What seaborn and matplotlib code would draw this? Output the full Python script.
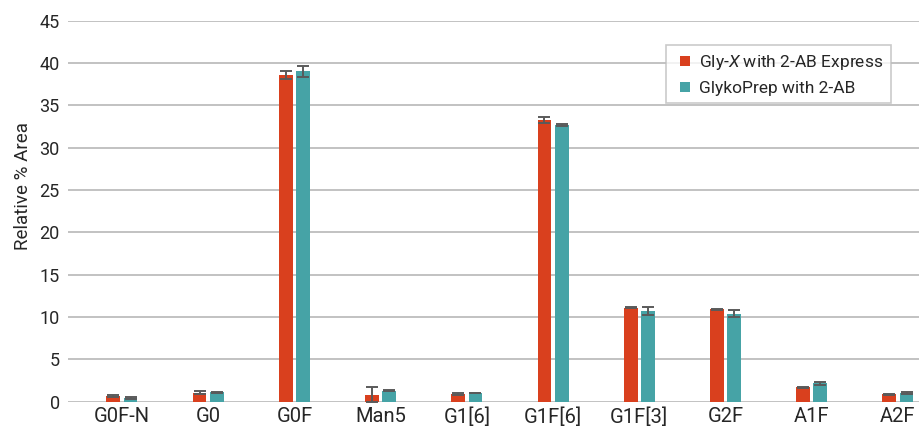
import matplotlib
matplotlib.use("Agg")
import matplotlib.pyplot as plt
from matplotlib.lines import Line2D
import seaborn as sns
import pandas as pd

# Relative peak areas of released N-glycans for two sample-prep workflows
glycans = ["G0F-N", "G0", "G0F", "Man5", "G1[6]", "G1F[6]", "G1F[3]", "G2F", "A1F", "A2F"]
methods = ["Gly-$\\it{X}$ with 2-AB Express", "GlykoPrep with 2-AB"]
glyx_mean = [0.67, 1.08, 38.6, 0.83, 0.9, 33.25, 11.1, 10.9, 1.7, 0.86]
glyx_sd = [0.08, 0.15, 0.45, 0.85, 0.1, 0.35, 0.05, 0.1, 0.05, 0.05]
glyko_mean = [0.45, 1.1, 39.0, 1.32, 1.03, 32.7, 10.7, 10.4, 2.15, 1.06]
glyko_sd = [0.1, 0.08, 0.6, 0.1, 0.05, 0.08, 0.5, 0.4, 0.2, 0.12]
yticks = [0, 5, 10, 15, 20, 25, 30, 35, 40, 45]

red = "#D9401E"
teal = "#46A3A6"
ink = "#262626"

sns.set_theme(style="white")
plt.rcParams["font.family"] = ["Roboto", "DejaVu Sans"]
plt.rcParams["mathtext.fontset"] = "custom"
plt.rcParams["mathtext.it"] = "Roboto:italic"
plt.rcParams["mathtext.rm"] = "Roboto"

df = pd.DataFrame({
    "glycan": glycans * 2,
    "method": [methods[0]] * len(glycans) + [methods[1]] * len(glycans),
    "area": glyx_mean + glyko_mean,
})

fig = plt.figure(figsize=(9.19, 4.36), dpi=100)
ax = fig.add_axes([68 / 919, 1 - 401.7 / 436, 1 - 68 / 919, (401.7 - 20.7) / 436])

sns.barplot(data=df, x="glycan", y="area", hue="method", order=glycans,
            hue_order=methods, palette=[red, teal], width=0.4, gap=0.2,
            errorbar=None, saturation=1, linewidth=0, ax=ax, legend=False)

# Standard-deviation whiskers at each bar's centre
for container, sds in zip(ax.containers, [glyx_sd, glyko_sd]):
    for bar, sd in zip(container, sds):
        xc = bar.get_x() + bar.get_width() / 2
        ax.errorbar(xc, bar.get_height(), yerr=sd, fmt="none",
                    ecolor="#5A5A5A", elinewidth=1.4, capsize=4, capthick=1.4, zorder=3)

ax.set_ylim(0, 45)
ax.set_yticks(yticks)
ax.set_xlim(-0.626, 9.244)
ax.yaxis.grid(True, color="#BDBDBD", linewidth=1.3)
ax.set_axisbelow(True)
for s in ax.spines.values():
    s.set_visible(False)
ax.tick_params(axis="both", length=0, colors=ink)
ax.tick_params(axis="y", labelsize=13, pad=6)
ax.tick_params(axis="x", labelsize=14.5, pad=4)
ax.set_xlabel("")
ax.set_ylabel("Relative % Area", fontsize=13.5, color=ink)
ax.yaxis.set_label_coords(-0.042, 0.565)

handles = [Line2D([], [], linestyle="none", marker="s", markersize=6.5,
                  markerfacecolor=c, markeredgewidth=0) for c in (red, teal)]
leg = ax.legend(handles, methods, loc="upper right",
                bbox_to_anchor=(891 / 919, 1 - 45 / 436),
                bbox_transform=fig.transFigure, frameon=True, fancybox=False,
                edgecolor="#BDBDBD", fontsize=12.5, handlelength=1.35,
                handletextpad=0.1, borderpad=0.45, labelspacing=0.5,
                borderaxespad=0)
leg.get_frame().set_linewidth(1.2)
for t in leg.get_texts():
    t.set_color(ink)

fig.savefig("out.png", dpi=100)
